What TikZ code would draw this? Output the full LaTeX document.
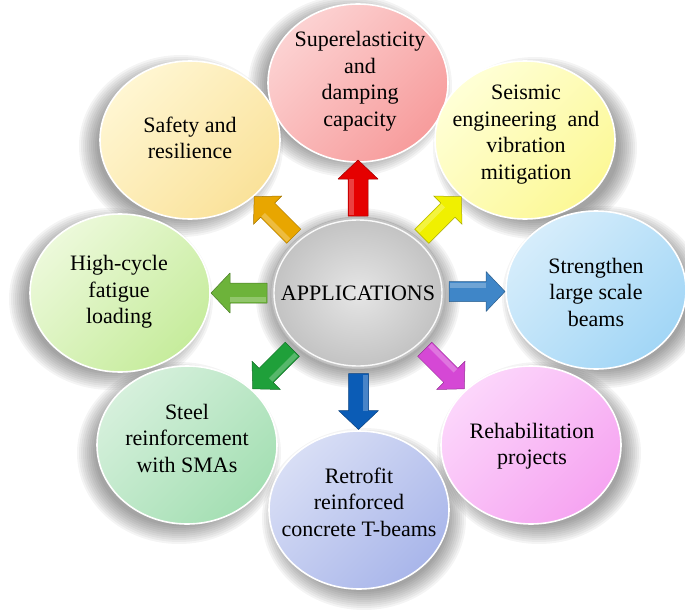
\documentclass[tikz,border=0pt]{standalone}
\usepackage{fontspec}
\setmainfont{Liberation Serif}
\usetikzlibrary{shapes.geometric,calc}
\definecolor{pkL}{HTML}{FCD2D2}\definecolor{pkD}{HTML}{F79C9C}
\definecolor{ylL}{HTML}{FFFFD6}\definecolor{ylD}{HTML}{FCF896}
\definecolor{blL}{HTML}{D6EDFB}\definecolor{blD}{HTML}{A2D6F6}
\definecolor{mgL}{HTML}{FCD6FB}\definecolor{mgD}{HTML}{F6A4F1}
\definecolor{lvL}{HTML}{D8DEF5}\definecolor{lvD}{HTML}{A9B6EA}
\definecolor{sgL}{HTML}{D6F0DC}\definecolor{sgD}{HTML}{A4DFB3}
\definecolor{hgL}{HTML}{ECF9DA}\definecolor{hgD}{HTML}{C6EC9C}
\definecolor{sfL}{HTML}{FFF6D2}\definecolor{sfD}{HTML}{FAE29A}
\definecolor{arRed}{HTML}{E50000}
\definecolor{arYel}{HTML}{F0F000}
\definecolor{arBlu}{HTML}{3F86C8}
\definecolor{arMag}{HTML}{D548D5}
\definecolor{arNav}{HTML}{0B5CB6}
\definecolor{arGrn}{HTML}{1FA03A}
\definecolor{arLim}{HTML}{6DB33A}
\definecolor{arOrg}{HTML}{E8A600}
\tikzset{
  bubble/.style={ellipse, minimum width=180, minimum height=158, inner sep=0pt,
    draw=white, line width=1.6pt},
  lbl/.style={align=center, inner sep=0pt, font=\fontsize{22}{26.5}\selectfont},
  barrow/.pic={\path[fill=#1, draw=#1!70!black, line width=0.5pt, line join=round]
      (-28,-10) -- (9,-10) -- (9,-20) -- (28,0) -- (9,20) -- (9,10) -- (-28,10) -- cycle;
    \fill[white, opacity=0.25] (-27,-9) -- (9,-9) -- (9,-4) -- (-27,-4) -- cycle;}
}
\newcommand\softshade[4]{%
  \foreach \k in {0,...,9}{\fill[black, opacity=0.045] (#1,#2) ellipse [x radius={#3+2*\k-6}, y radius={#4+2*\k-6}];}}
\begin{document}
\begin{tikzpicture}[x=1pt, y=-1pt]
\useasboundingbox (0,0) rectangle (685,613);
% soft shadows
\softshade{350}{86}{90}{79}
\softshade{535}{148}{90}{79}
\softshade{604}{297}{90}{79}
\softshade{539}{453}{90}{79}
\softshade{364}{519}{90}{79}
\softshade{179}{453}{90}{79}
\softshade{111}{299}{90}{79}
\softshade{181}{146}{90}{79}
\softshade{358}{298}{90}{78}
% outer bubbles
\node[bubble, top color=pkL, bottom color=pkD, shading angle=45] (n1) at (358,83) {};
\node[bubble, top color=ylL, bottom color=ylD, shading angle=45] (n2) at (525,140) {};
\node[bubble, top color=blL, bottom color=blD, shading angle=45] (n3) at (596,290) {};
\node[bubble, top color=mgL, bottom color=mgD, shading angle=45] (n4) at (531,445) {};
\node[bubble, top color=lvL, bottom color=lvD, shading angle=45] (n5) at (359,510) {};
\node[bubble, top color=sgL, bottom color=sgD, shading angle=45] (n6) at (187,445) {};
\node[bubble, top color=hgL, bottom color=hgD, shading angle=45] (n7) at (120,293) {};
\node[bubble, top color=sfL, bottom color=sfD, shading angle=45] (n8) at (190,140) {};
% centre
\node[ellipse, minimum width=174, minimum height=152, inner sep=0pt, draw=black!30, line width=0.6pt,
      inner color=black!10, outer color=black!24] (c) at (358,293) {};
\draw[white, line width=1.4pt, opacity=0.9] (c.center) ellipse [x radius=84, y radius=73];
\node[lbl] (tc) at (358,293) {APPLICATIONS};
% texts
\node[lbl] (t1) at (360,81) {Superelasticity\\and\\damping\\capacity};
\node[lbl] (t2) at (526,134.5) {Seismic\\engineering\ \ and\\vibration\\mitigation};
\node[lbl] (t3) at (596,292) {Strengthen\\large scale\\beams};
\node[lbl] (t4) at (532,446) {Rehabilitation\\projects};
\node[lbl] (t5) at (359,502) {Retrofit\\reinforced\\concrete T-beams};
\node[lbl] (t6) at (187,438) {Steel\\reinforcement\\with SMAs};
\node[lbl] (t7) at (119,292) {High-cycle\\fatigue\\loading};
\node[lbl] (t8) at (190,138) {Safety and\\resilience};
% block arrows
\pic[rotate=90]   (a1) at ($(c)!0.5!(n1)$) {barrow=arRed};
\pic[rotate=45]   (a2) at ($(c)!0.5!(n2)$) {barrow=arYel};
\pic[rotate=0]    (a3) at ($(c)!0.5!(n3)$) {barrow=arBlu};
\pic[rotate=-45]  (a4) at ($(c)!0.5!(n4)$) {barrow=arMag};
\pic[rotate=-90]  (a5) at ($(c)!0.5!(n5)$) {barrow=arNav};
\pic[rotate=-135] (a6) at ($(c)!0.5!(n6)$) {barrow=arGrn};
\pic[rotate=180]  (a7) at ($(c)!0.5!(n7)$) {barrow=arLim};
\pic[rotate=135]  (a8) at ($(c)!0.5!(n8)$) {barrow=arOrg};
\end{tikzpicture}
\end{document}
